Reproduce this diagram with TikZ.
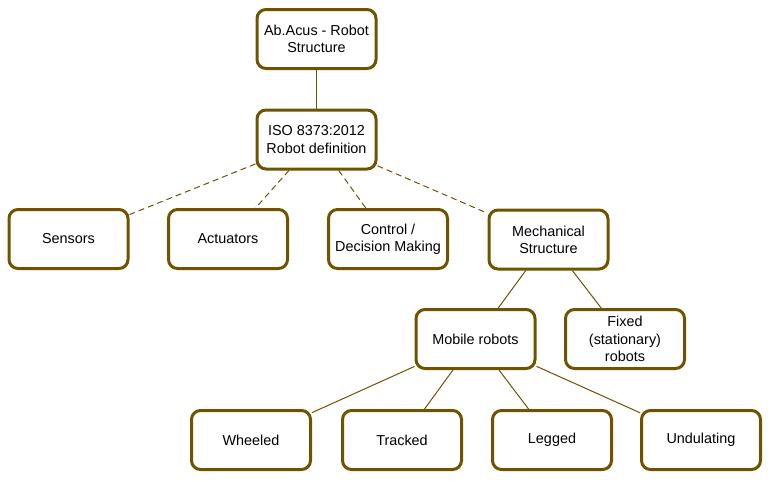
\documentclass[tikz,border=0pt]{standalone}
\usepackage{fontspec}
\setmainfont{Liberation Sans}
\usepackage{xcolor}
\usepackage{tikz}
\definecolor{RobotBrown}{HTML}{6F5300}
\tikzset{RS box/.style={draw=RobotBrown, line width=3pt, rounded corners=9pt, minimum width=119pt, minimum height=59pt, inner sep=2pt, align=center, font=\fontsize{14.4}{17.3}\selectfont},
RS link/.style={draw=RobotBrown, line width=1pt},
RS dash/.style={RS link, dash pattern=on 6pt off 4pt}}

\begin{document}
\begin{tikzpicture}[x=1pt, y=-1pt]
\useasboundingbox (0,0) rectangle (771,480);

\node[RS box] (T) at (316.5,39) {Ab.Acus - Robot\\Structure};
\node[RS box] (ISO) at (316.5,139.5) {ISO 8373:2012\\Robot definition};

\node[RS box] (S) at (68.5,239) {Sensors};
\node[RS box] (A) at (228,239) {Actuators};
\node[RS box] (C) at (388,239) {Control /\\Decision Making};
\node[RS box] (M) at (548.5,239.5) {Mechanical\\Structure};

\node[RS box] (MR) at (475.5,339) {Mobile robots};
\node[RS box] (F) at (625,339) {Fixed\\(stationary)\\robots};

\node[RS box] (W) at (251,440) {Wheeled};
\node[RS box] (Tr) at (402,440) {Tracked};
\node[RS box] (L) at (552,440) {Legged};
\node[RS box] (U) at (701,440) {Undulating};

\draw[RS link] (T) -- (ISO);

\draw[RS dash] (ISO) -- (S);
\draw[RS dash] (ISO) -- (A);
\draw[RS dash] (ISO) -- (C);
\draw[RS dash] (ISO) -- (M);

\draw[RS link] (M) -- (MR);
\draw[RS link] (M) -- (F);

\draw[RS link] (MR) -- (W);
\draw[RS link] (MR) -- (Tr);
\draw[RS link] (MR) -- (L);
\draw[RS link] (MR) -- (U);
\end{tikzpicture}
\end{document}
